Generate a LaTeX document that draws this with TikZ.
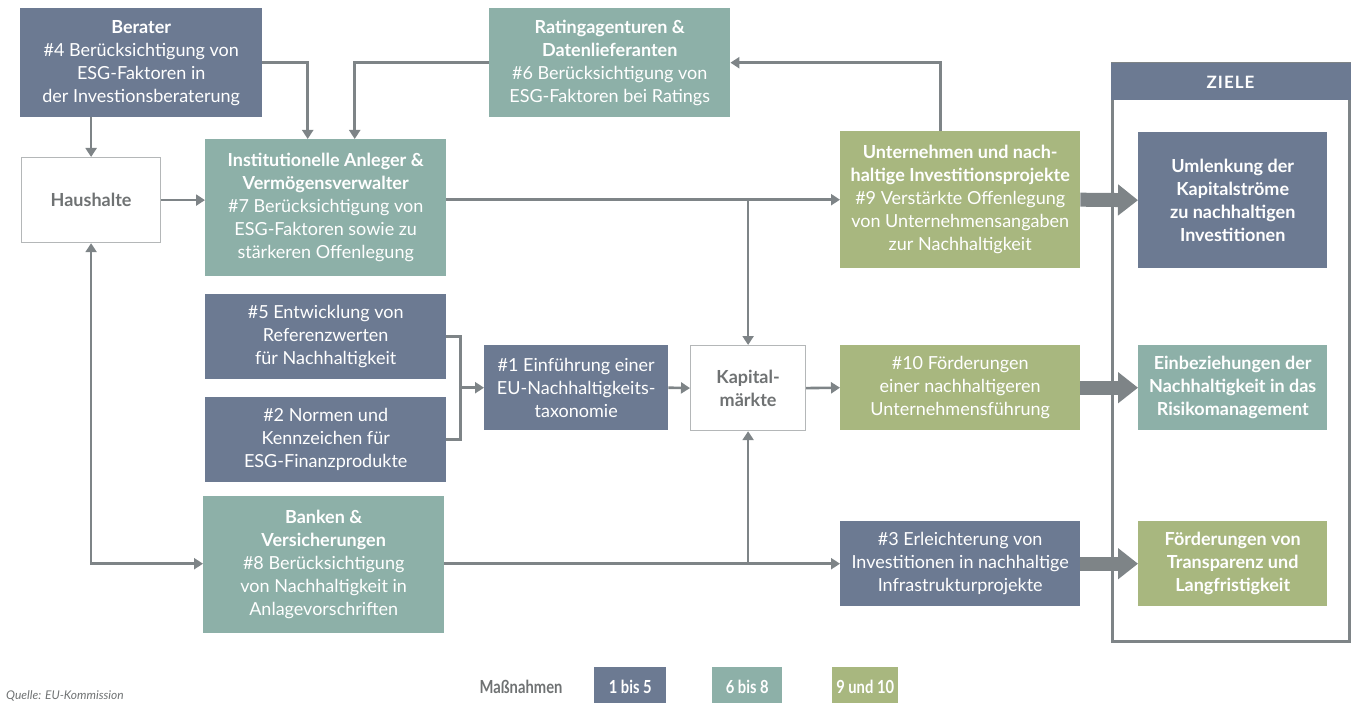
\documentclass[tikz,border=0pt]{standalone}
\usepackage{fontspec}
\setmainfont{Lato}
\usetikzlibrary{arrows.meta}
\definecolor{cSlate}{HTML}{6C7A92}
\definecolor{cTeal}{HTML}{8DB0A8}
\definecolor{cGreen}{HTML}{A8B77F}
\definecolor{cLine}{HTML}{7E8487}
\definecolor{cBorder}{HTML}{B4B7B8}
\definecolor{cGrayText}{HTML}{6F7273}
\newcommand{\narrowtext}[1]{\scalebox{0.82}[1]{#1}}
\tikzset{
  box/.style={anchor=north west, inner sep=0pt, align=center, text=white,
    font=\fontsize{18}{23}\selectfont},
  slatebox/.style={box, fill=cSlate},
  tealbox/.style={box, fill=cTeal},
  greenbox/.style={box, fill=cGreen},
  whitebox/.style={box, fill=white, draw=cBorder, line width=1.2pt, text=cGrayText,
    font=\fontsize{18}{23}\selectfont\bfseries},
  goalfont/.style={font=\fontsize{18}{23}\selectfont\bfseries},
  plain/.style={draw=cLine, line width=2.6pt},
  conn/.style={plain, -{Triangle[length=9pt,width=11pt]}},
  dconn/.style={plain, {Triangle[length=9pt,width=11pt]}-{Triangle[length=9pt,width=11pt]}},
  fat/.style={draw=cLine, line width=14pt, -{Triangle[length=20pt,width=30pt]}},
  legbox/.style={anchor=north west, inner sep=0pt, text=white,
    font=\fontsize{18}{20}\selectfont\bfseries, minimum width=72pt, minimum height=40pt}
}
\begin{document}
\begin{tikzpicture}[x=1pt,y=-1pt]
\useasboundingbox (0,0) rectangle (1356,703);

% ZIELE frame
\draw[cLine, line width=3pt] (1112.5,64) rectangle (1349,641);
\fill[cSlate] (1111,63) rectangle (1350.5,100);
\node[font=\fontsize{17}{20}\selectfont\bfseries, text=white] (ziele) at (1230.5,82) {Z\kern1ptI\kern1ptE\kern1ptL\kern1ptE};

% boxes
\node[slatebox, minimum width=242pt, minimum height=109pt] (berater) at (20,8)
  {\textbf{Berater}\\\#4 Berücksichtigung von\\ESG-Faktoren in\\der Investionsberaterung};
\node[whitebox, minimum width=139pt, minimum height=85pt] (haus) at (21,157) {Haushalte};
\node[tealbox, minimum width=241pt, minimum height=137pt] (inst) at (205,139)
  {\textbf{Institutionelle Anleger \&}\\\textbf{Vermögensverwalter}\\\#7 Berücksichtigung von\\ESG-Faktoren sowie zu\\stärkeren Offenlegung};
\node[tealbox, minimum width=241pt, minimum height=109pt] (rating) at (489,8)
  {\textbf{Ratingagenturen \&}\\\textbf{Datenlieferanten}\\\#6 Berücksichtigung von\\ESG-Faktoren bei Ratings};
\node[greenbox, minimum width=240pt, minimum height=137pt] (unt) at (840,131)
  {\textbf{Unternehmen und nach-}\\\textbf{haltige Investitionsprojekte}\\\#9 Verstärkte Offenlegung\\von Unternehmensangaben\\zur Nachhaltigkeit};
\node[slatebox, goalfont, minimum width=189pt, minimum height=136pt] (uml) at (1138,132)
  {Umlenkung der\\Kapitalströme\\zu nachhaltigen\\Investitionen};
\node[slatebox, minimum width=241pt, minimum height=85pt] (n5) at (205,294)
  {\#5 Entwicklung von\\Referenzwerten\\für Nachhaltigkeit};
\node[slatebox, minimum width=241pt, minimum height=85pt] (n2) at (205,397)
  {\#2 Normen und\\Kennzeichen für\\ESG-Finanzprodukte};
\node[slatebox, minimum width=184pt, minimum height=85pt] (n1) at (484,345)
  {\#1 Einführung einer\\EU-Nachhaltigkeits-\\taxonomie};
\node[whitebox, minimum width=115pt, minimum height=85pt] (kap) at (690,345)
  {Kapital-\\märkte};
\node[greenbox, minimum width=240pt, minimum height=85pt] (n10) at (840,345)
  {\#10 Förderungen\\einer nachhaltigeren\\Unternehmensführung};
\node[tealbox, goalfont, minimum width=189pt, minimum height=85pt] (einb) at (1138,345)
  {Einbeziehungen der\\Nachhaltigkeit in das\\Risikomanagement};
\node[tealbox, minimum width=241pt, minimum height=137pt] (bank) at (203,496)
  {\textbf{Banken \&}\\\textbf{Versicherungen}\\\#8 Berücksichtigung\\von Nachhaltigkeit in\\Anlagevorschriften};
\node[slatebox, minimum width=240pt, minimum height=85pt] (n3) at (840,521)
  {\#3 Erleichterung von\\Investitionen in nachhaltige\\Infrastrukturprojekte};
\node[greenbox, goalfont, minimum width=189pt, minimum height=85pt] (foerd) at (1138,521)
  {Förderungen von\\Transparenz und\\Langfristigkeit};

% connectors
\draw[conn] (haus.north |- berater.south) -- (haus.north);
\draw[conn] (berater.east) -| ([xshift=-18pt]inst.north);
\draw[conn] (rating.west) -| ([xshift=29pt]inst.north);
\draw[conn] (haus.east) -- (haus.east -| inst.west);
\draw[conn] (inst.east |- unt.west) -- (unt.west);
\draw[conn] (kap.north |- unt.west) -- (kap.north);
\draw[conn] ([xshift=-20pt]unt.north) |- (rating.east);
\draw[plain] (n5.east) -- ++(14pt,0) coordinate (br) |- (n2.east);
\draw[conn] (br |- n1.west) -- (n1.west);
\draw[conn] (n1.east) -- (kap.west);
\draw[conn] (kap.east) -- (n10.west);
\draw[conn] (bank.east |- n3.west) -- (n3.west);
\draw[conn] (kap.south |- n3.west) -- (kap.south);
\draw[dconn] (haus.south) |- (bank.west |- n3.west);
\draw[fat] (unt.east) -- (uml.west);
\draw[fat] (n10.east) -- (einb.west);
\draw[fat] (n3.east) -- (foerd.west);

% legend
\node[font=\fontsize{18}{20}\selectfont\bfseries, text=cGrayText] (leg) at (521,687) {\narrowtext{Maßnahmen}};
\node[legbox, fill=cSlate] (l1) at (594,667) {\narrowtext{1 bis 5}};
\node[legbox, fill=cTeal, minimum width=70pt] (l2) at (712,667) {\narrowtext{6 bis 8}};
\node[legbox, fill=cGreen, minimum width=66pt] (l3) at (832,667) {\narrowtext{9 und 10}};
\node[anchor=base west, inner sep=0pt, text=cGrayText, font=\fontsize{12}{14}\selectfont\itshape] (src) at (6,699) {Quelle: EU-Kommission};
\end{tikzpicture}
\end{document}
